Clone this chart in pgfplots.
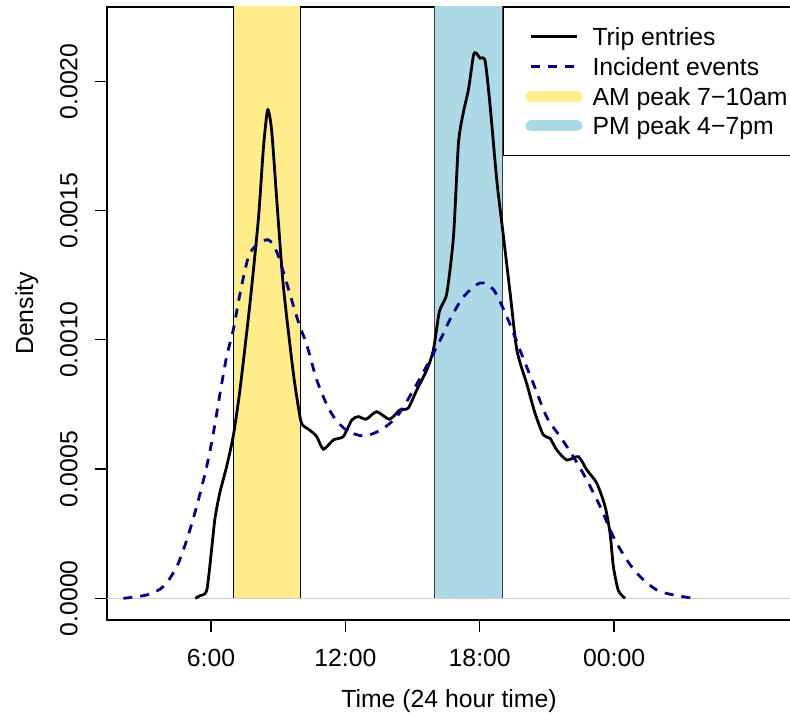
\documentclass[border=0pt]{standalone}
\usepackage{pgfplots}
\pgfplotsset{compat=1.18}
\usepackage{fontspec}
\setmainfont{Liberation Sans}
\definecolor{amyellow}{HTML}{FFEC8B}
\definecolor{pmblue}{HTML}{ADD8E6}
\definecolor{incblue}{HTML}{00008B}
\begin{document}
\begin{tikzpicture}[font=\fontsize{12.4pt}{14.9pt}\selectfont]
\begin{axis}[
  at={(0pt,0pt)}, anchor=south west,
  scale only axis, width=342pt, height=306.5pt,
  xmin=1.358, xmax=31.9, ymin=-0.000084, ymax=0.002288,
  axis line style={black, line width=0.8pt},
  tick pos=left, tick align=outside, major tick length=6pt,
  tick style={black, line width=0.6pt},
  xtick={6,12,18,24}, xticklabels={6:00,12:00,18:00,00:00},
  ytick={0,0.0005,0.001,0.0015,0.002},
  yticklabels={0.0000,0.0005,0.0010,0.0015,0.0020},
  scaled y ticks=false,
  /pgf/number format/assume math mode=true,
  xticklabel style={anchor=north, inner sep=0pt},
  yticklabel style={rotate=90, anchor=south, inner sep=0pt},
  xticklabel shift=8.5pt, yticklabel shift=8.5pt,
  xlabel={Time (24 hour time)}, ylabel={Density},
  xlabel style={at={(axis description cs:0.5,-0.1321)}, anchor=center, inner sep=0pt},
  ylabel style={at={(axis description cs:-0.1,0.5)}, anchor=south, inner sep=0pt},
  legend style={at={(axis cs:19.04,0.002288)}, anchor=north west,
    draw=black, line width=0.5pt, fill=white,
    inner xsep=11pt, inner ysep=7.1pt, row sep=-0.25pt, column sep=5pt,
    font=\fontsize{12.4pt}{14.9pt}\selectfont,
    nodes={inner sep=0pt, text height=12.1pt, text depth=3.0pt}},
  legend cell align=left,
  legend image code/.code={\draw[#1] (0pt,0pt) -- (23pt,0pt);},
]
% peak bands
\addplot[fill=amyellow, draw=black, line width=0.5pt, forget plot]
  coordinates {(7,0) (7,0.003) (10,0.003) (10,0)} -- cycle;
\addplot[fill=pmblue, draw=black!75, line width=0.5pt, forget plot]
  coordinates {(16,0) (16,0.003) (19,0.003) (19,0)} -- cycle;
% zero line
\addplot[gray!40, line width=0.8pt, forget plot]
  coordinates {(1.358,0) (31.9,0)};
% trip entries
\addplot[black, line width=1.4pt, smooth, tension=0.4, forget plot] coordinates {
(5.3,0) (5.51,0.00001) (5.81,0.00003) (6.03,0.00019) (6.18,0.00031)
(6.4,0.00041) (6.7,0.00051) (7.0,0.00063) (7.3,0.00081) (7.74,0.00114)
(8.12,0.00147) (8.34,0.00174) (8.53,0.00189) (8.71,0.00181) (8.94,0.00154)
(9.23,0.00121) (9.68,0.00087) (9.98,0.00070) (10.1,0.00067) (10.42,0.00065)
(10.72,0.000626) (11.02,0.000577) (11.47,0.000613) (11.91,0.000626)
(12.29,0.00069) (12.58,0.000703) (12.93,0.000693) (13.4,0.000722)
(13.97,0.000693) (14.44,0.000729) (14.81,0.000736) (15.19,0.000806)
(15.64,0.000884) (15.93,0.00096) (16.2,0.00111) (16.53,0.00118)
(16.83,0.0014) (17.05,0.00176) (17.27,0.00188) (17.5,0.00197)
(17.72,0.0021) (17.84,0.00211) (18.02,0.00209) (18.24,0.00208)
(18.46,0.00191) (18.76,0.00162) (19.06,0.0014) (19.36,0.00118)
(19.66,0.00096) (20.1,0.00083) (20.47,0.000716) (20.84,0.000632)
(21.14,0.000619) (21.44,0.000574) (21.89,0.000535) (22.41,0.000548)
(22.78,0.000497) (23.23,0.000445) (23.6,0.000355) (23.82,0.000252)
(23.97,0.000122) (24.19,0.00003) (24.49,0)
};
% incident events
\addplot[incblue, line width=1.4pt, dash pattern=on 4.5pt off 4pt, smooth, tension=0.5, forget plot] coordinates {
(2.09,0) (3.13,0.000013) (3.87,0.000045) (4.47,0.000122) (4.92,0.000226)
(5.36,0.000355) (5.81,0.00051) (6.11,0.00064) (6.4,0.00079) (6.7,0.000935)
(7.0,0.00104) (7.3,0.00118) (7.67,0.00132) (8.04,0.001367) (8.56,0.001387)
(8.94,0.00134) (9.38,0.00122) (9.9,0.00107) (10.28,0.00098) (10.72,0.000846)
(11.17,0.00075) (11.54,0.000695) (12.06,0.00065) (12.8,0.000628)
(13.55,0.00065) (14.3,0.000703) (15.04,0.000806) (15.78,0.000923)
(16.3,0.00101) (16.68,0.00108) (17.27,0.001166) (18.02,0.00122)
(18.61,0.001195) (19.21,0.00109) (19.8,0.00096) (20.4,0.00083)
(21.0,0.0007) (21.59,0.000626) (22.18,0.000548) (22.78,0.000458)
(23.38,0.000355) (23.97,0.000238) (24.57,0.000148) (25.16,0.000084)
(25.91,0.000032) (26.65,0.000013) (27.54,0)
};
\addlegendimage{black, line width=1.4pt}
\addlegendentry{Trip entries}
\addlegendimage{incblue, line width=1.4pt, dash pattern=on 4.5pt off 4pt}
\addlegendentry{Incident events}
\addlegendimage{amyellow, line width=5.5pt, line cap=round}
\addlegendentry{AM peak 7−10am}
\addlegendimage{pmblue, line width=5.5pt, line cap=round}
\addlegendentry{PM peak 4−7pm}
\end{axis}
\pgfresetboundingbox
\path[use as bounding box] (-53.5pt,-49pt) rectangle (341.5pt,310pt);
\end{tikzpicture}
\end{document}
